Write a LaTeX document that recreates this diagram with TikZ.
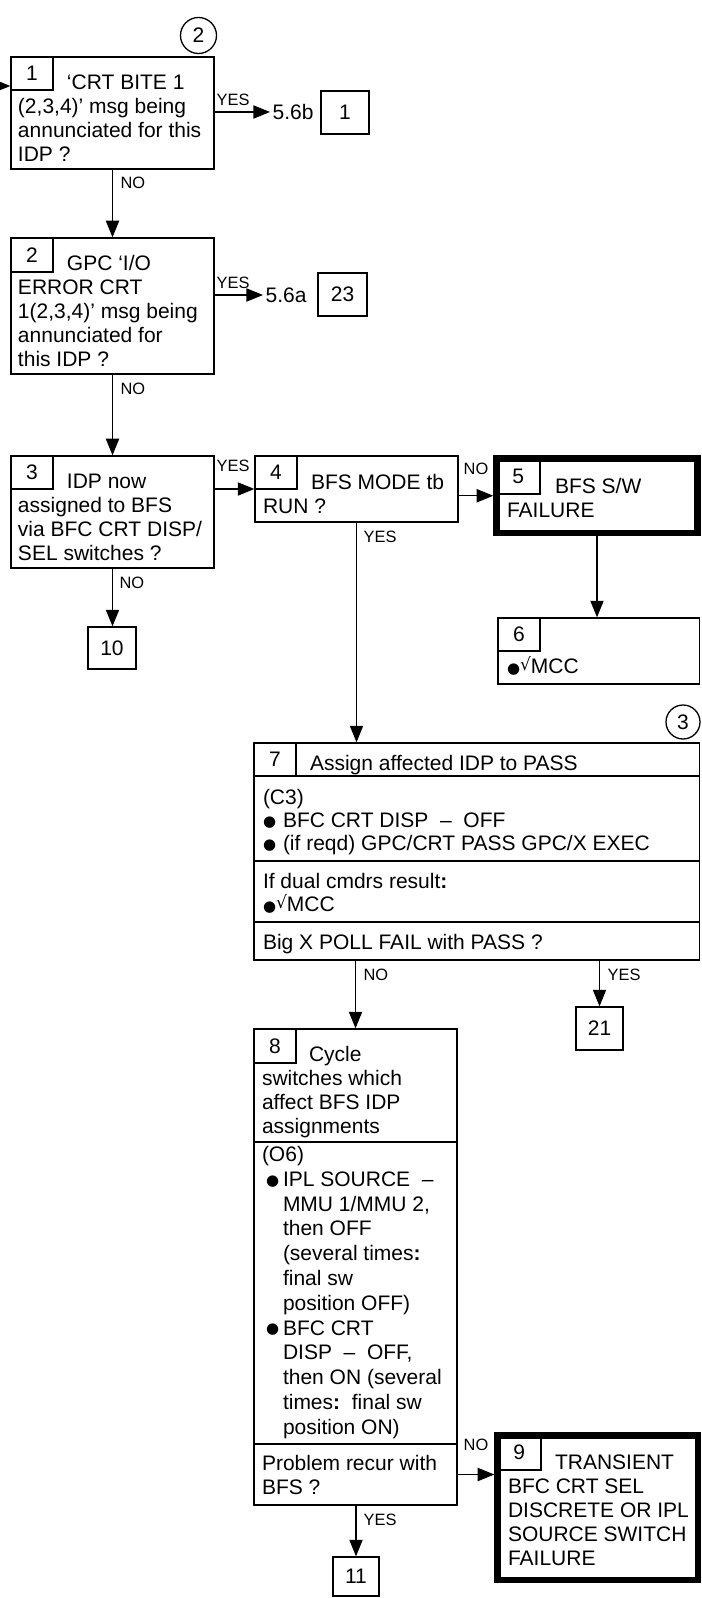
\documentclass[tikz,border=0pt]{standalone}
\usepackage{fontspec}
\setmainfont{Liberation Sans}
\newfontfamily\symf{DejaVu Sans}
\usetikzlibrary{arrows.meta,fit}
\newcommand{\mf}{\fontsize{10.5pt}{12pt}\selectfont}
\newcommand{\lf}{\fontsize{8.2pt}{9pt}\selectfont}
\newcommand{\st}{\rule{0pt}{8.4pt}}
\newcommand{\bul}[1]{\makebox[#1][l]{\raisebox{0.6pt}{\symf\fontsize{7.5pt}{9pt}\selectfont ●}}}
\newcommand{\chk}{{\symf\fontsize{7.5pt}{9pt}\selectfont ●}\raisebox{1.4pt}{\symf\fontsize{8.5pt}{9pt}\selectfont √}}
\tikzset{
  bx/.style={draw, rectangle, inner sep=0pt, font=\mf},
  hbx/.style={draw, rectangle, inner sep=0pt, line width=3.2pt, font=\mf},
  nb/.style={draw, rectangle, inner sep=0pt, font=\mf},
  txt/.style={anchor=north west, inner sep=0pt, outer sep=0pt, align=left, font=\mf},
  lbl/.style={anchor=west, inner sep=0pt, font=\lf},
  refx/.style={anchor=west, inner sep=1pt, font=\mf},
  arr/.style={-{Triangle[length=8.3pt,width=6.6pt]}},
  cir/.style={circle, draw, inner sep=0pt, font=\mf},
}
\begin{document}
\begin{tikzpicture}[x=0.5pt,y=-0.5pt,line width=0.65pt]
\useasboundingbox (0,0) rectangle (701,1598);
\fill[white] (0,0) rectangle (701,1598);

% circles
\node[cir, minimum size=18pt] (c2) at (198.5,35.5) {2};
\node[cir, minimum size=17pt] (c3) at (683,722) {3};

% box 1
\node[bx, fit={(11,57) (214,169)}] (b1) {};
\node[nb, minimum width=21pt, minimum height=16.5pt] (n1) at (32,73.5) {1};
\node[txt] (x1) at (18,72.7) {\st\hspace*{24.5pt}‘CRT BITE 1\\(2,3,4)’ msg being\\annunciated for this\\IDP ?};
\coordinate (in1) at (-10,86);
\draw[arr] (in1) -- (in1 -| b1.west);
\node[refx] (r1) at (270,112) {5.6b};
\draw[arr] (b1.east |- r1.west) -- (r1.west);
\node[nb, minimum width=24pt, minimum height=21.5pt] (t1) at (345,112.5) {1};
\node[lbl] (l1) at (216,100) {YES};

% box 2
\node[bx, fit={(11,238) (214,374)}] (b2) {};
\node[nb, minimum width=21pt, minimum height=17pt] (n2) at (32,255) {2};
\node[txt] (x2) at (18,253.7) {\st\hspace*{24.5pt}GPC ‘I/O\\ERROR CRT\\1(2,3,4)’ msg being\\annunciated for\\this IDP ?};
\node[refx] (r2) at (263,295) {5.6a};
\draw[arr] (b2.east |- r2.west) -- (r2.west);
\node[nb, minimum width=24.5pt, minimum height=21.5pt] (t23) at (342.5,294.5) {23};
\node[lbl] (l2) at (216,283) {YES};
\draw[arr] (b1.south) -- (b1.south |- b2.north);
\node[lbl] (l3) at (120,183) {NO};

% box 3
\node[bx, fit={(11,456) (214,568)}] (b3) {};
\node[nb, minimum width=21pt, minimum height=16.5pt] (n3) at (32,472.5) {3};
\node[txt] (x3) at (18,471.7) {\st\hspace*{24.5pt}IDP now\\assigned to BFS\\via BFC CRT DISP/\\SEL switches ?};
\draw[arr] (b2.south) -- (b2.south |- b3.north);
\node[lbl] (l4) at (120,389) {NO};
\node[nb, minimum width=24pt, minimum height=21pt] (t10) at (112,648) {10};
\draw[arr] (b3.south) -- (b3.south |- t10.north);
\node[lbl] (l5) at (119,583) {NO};

% box 4
\node[bx, fit={(255,456) (458,522)}] (b4) {};
\node[nb, minimum width=21pt, minimum height=16.5pt] (n4) at (276,472.5) {4};
\node[txt] (x4) at (263,472.7) {\st\hspace*{24pt}BFS MODE tb\\RUN ?};
\draw[arr] (b3.east |- b4.west) -- (b4.west);
\node[lbl] (l6) at (216,466) {YES};

% box 5
\node[hbx, fit={(496.5,458.5) (697.5,533)}] (b5) {};
\node[nb, minimum width=21.75pt, minimum height=17.75pt] (n5) at (518.25,476.25) {5};
\node[txt] (x5) at (507,476.7) {\st\hspace*{24pt}BFS S/W\\FAILURE};
\draw[arr] (b4.east |- b5.west) -- (b5.west);
\node[lbl] (l7) at (463,469) {NO};

% box 6
\node[bx, fit={(498,618) (699.5,684)}] (b6) {};
\node[nb, minimum width=21pt, minimum height=16.5pt] (n6) at (519,634.5) {6};
\node[txt] (x6) at (507,656.7) {\st\chk MCC};
\draw[arr] (b5.south) -- (b5.south |- b6.north);

% box 7
\node[bx, fit={(254,743) (699.5,776)}] (b7a) {};
\node[nb, minimum width=21pt, minimum height=16.5pt] (n7) at (275,759.5) {7};
\node[txt] (x7a) at (310,753.7) {\st Assign affected IDP to PASS};
\node[bx, fit={(254,776) (699.5,861)}] (b7b) {};
\node[txt, font=\fontsize{10.5pt}{11.6pt}\selectfont] (x7b) at (263,787.7) {\st(C3)\\\bul{10pt}BFC CRT DISP~~–~~OFF\\\bul{10pt}(if reqd) GPC/CRT PASS GPC/X EXEC};
\node[bx, fit={(254,861) (699.5,922)}] (b7c) {};
\node[txt, font=\fontsize{10.5pt}{11.6pt}\selectfont] (x7c) at (263,871.7) {\st If dual cmdrs result\textbf{:}\\\chk MCC};
\node[bx, fit={(254,922) (699.5,960)}] (b7d) {};
\node[txt] (x7d) at (263,932.7) {\st Big X POLL FAIL with PASS ?};
\draw[arr] (b4.south) -- (b4.south |- b7a.north);
\node[lbl] (l8) at (363,537) {YES};

% box 21
\node[nb, minimum width=23.5pt, minimum height=21.5pt] (t21) at (599.5,1028.5) {21};
\draw[arr] (t21.north |- b7d.south) -- (t21.north);
\node[lbl] (l9) at (607,975) {YES};

% box 8
\node[bx, fit={(254,1029) (457,1142)}] (b8a) {};
\node[nb, minimum width=21pt, minimum height=17pt] (n8) at (275,1046) {8};
\node[txt] (x8a) at (262,1044.7) {\st\hspace*{23.5pt}Cycle\\switches which\\affect BFS IDP\\assignments};
\node[bx, fit={(254,1142) (457,1444)}] (b8b) {};
\node[txt, font=\fontsize{10.5pt}{12.4pt}\selectfont] (x8b) at (262,1144.7) {\st(O6)\\
\hspace*{2pt}\bul{8.5pt}IPL SOURCE~~–\\
\hspace*{10.5pt}MMU 1/MMU 2,\\
\hspace*{10.5pt}then OFF\\
\hspace*{10.5pt}(several times\textbf{:}\\
\hspace*{10.5pt}final sw\\
\hspace*{10.5pt}position OFF)\\
\hspace*{2pt}\bul{8.5pt}BFC CRT\\
\hspace*{10.5pt}DISP~~–~~OFF,\\
\hspace*{10.5pt}then ON (several\\
\hspace*{10.5pt}times\textbf{:}~~final sw\\
\hspace*{10.5pt}position ON)};
\node[bx, fit={(254,1444) (457,1505)}] (b8c) {};
\node[txt] (x8c) at (262,1453.7) {\st Problem recur with\\BFS ?};
\draw[arr] (b8a.north |- b7d.south) -- (b8a.north);
\node[lbl] (l10) at (363,975) {NO};

% box 9
\node[hbx, fit={(497.5,1435.5) (698,1580)}] (b9) {};
\node[nb, minimum width=21.75pt, minimum height=17.25pt] (n9) at (519.25,1452.75) {9};
\node[txt] (x9) at (508,1452.7) {\st\hspace*{23.5pt}TRANSIENT\\BFC CRT SEL\\DISCRETE OR IPL\\SOURCE SWITCH\\FAILURE};
\draw[arr] (b8c.east) -- (b8c.east -| b9.west);
\node[lbl] (l11) at (463,1445) {NO};

% box 11
\node[nb, minimum width=23pt, minimum height=19.5pt] (t11) at (356,1576.5) {11};
\draw[arr] (t11.north |- b8c.south) -- (t11.north);
\node[lbl] (l12) at (363,1520) {YES};
\end{tikzpicture}
\end{document}
